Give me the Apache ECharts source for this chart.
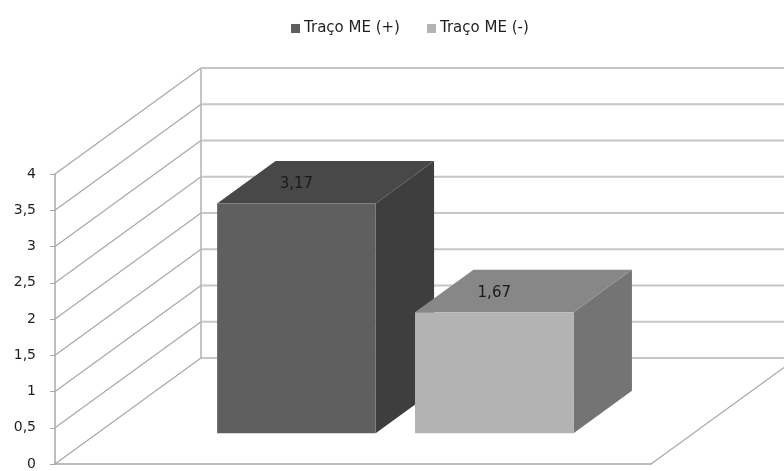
<!DOCTYPE html>
<html>
<head>
<meta charset="utf-8">
<script src="https://cdn.jsdelivr.net/npm/echarts@6/dist/echarts.min.js"></script>
<style>
  html, body { margin: 0; padding: 0; background: #ffffff; }
  #chart { width: 784px; height: 471px; }
</style>
</head>
<body>
<div id="chart"></div>
<script>
// ---- data ----
const categories = [''];
const seriesNames = ['Traço ME (+)', 'Traço ME (-)'];
const plusValues = [3.17];
const minusValues = [1.67];
const tickValues = [0, 0.5, 1, 1.5, 2, 2.5, 3, 3.5, 4];

// ---- oblique 3D geometry ----
const DEPTH = [146, -106];      // vector from front plane to back wall
const BAR_FRONT = 0.29;         // depth fraction of the bar front faces
const BAR_BACK = 0.69;          // depth fraction of the bar back faces
const BAR_W = 0.266;            // bar width as share of the category band
const BAR_GAP = 0.066;          // gap between the two bars
const LABEL_FONT = 'DejaVu Sans';

const faces = [
  { front: '#5f5f5f', top: '#484848', side: '#3e3e3e' },
  { front: '#b3b3b3', top: '#878787', side: '#747474' }
];

function fmt(v) { return String(v).replace('.', ','); }

// side wall diagonals, back wall gridlines and floor edge
function renderWall(params, api) {
  const cs = params.coordSys;
  const v = api.value(1);
  const y = api.coord([0, v])[1];
  const x0 = cs.x, x1 = cs.x + cs.width;
  const bx = x0 + DEPTH[0], by = y + DEPTH[1];
  const children = [
    { type: 'line', shape: { x1: x0, y1: y, x2: bx, y2: by },
      style: { stroke: '#a8a8a8', lineWidth: 1.2 } },
    { type: 'line', shape: { x1: bx, y1: by, x2: x1 + DEPTH[0] + 40, y2: by },
      style: { stroke: '#c6c6c6', lineWidth: 2 } }
  ];
  if (v === tickValues[0]) {
    const yTop = api.coord([0, tickValues[tickValues.length - 1]])[1] + DEPTH[1];
    children.push(
      { type: 'line', shape: { x1: bx, y1: by, x2: bx, y2: yTop },
        style: { stroke: '#b0b0b0', lineWidth: 1.5 } },
      { type: 'line', shape: { x1: x1, y1: y, x2: x1 + DEPTH[0], y2: by },
        style: { stroke: '#a8a8a8', lineWidth: 1.2 } }
    );
  }
  return { type: 'group', children: children };
}

// one 3D column per series, side by side in the category
function boxRenderer(idx) {
  return function (params, api) {
    const cat = api.value(0);
    const v = api.value(1);
    const base = api.coord([cat, 0]);
    const yTop = api.coord([cat, v])[1];
    const band = api.size([1, 0])[0];
    const w = band * BAR_W, gap = band * BAR_GAP;
    const left = base[0] - w - gap / 2 + idx * (w + gap);
    const fx = DEPTH[0] * BAR_FRONT, fy = DEPTH[1] * BAR_FRONT;
    const dx = DEPTH[0] * (BAR_BACK - BAR_FRONT), dy = DEPTH[1] * (BAR_BACK - BAR_FRONT);
    const L = left + fx, R = left + w + fx, T = yTop + fy, B = base[1] + fy;
    const c = faces[idx];
    return {
      type: 'group',
      children: [
        { type: 'polygon', shape: { points: [[R, T], [R + dx, T + dy], [R + dx, B + dy], [R, B]] },
          style: { fill: c.side } },
        { type: 'polygon', shape: { points: [[L, T], [R, T], [R + dx, T + dy], [L + dx, T + dy]] },
          style: { fill: c.top } },
        { type: 'rect', shape: { x: L, y: T, width: w, height: B - T },
          style: { fill: c.front } },
        { type: 'text', x: L + w / 2, y: T - 19,
          style: { text: fmt(v), fill: '#1a1a1a', font: '15px "' + LABEL_FONT + '"',
                   align: 'center', verticalAlign: 'middle' } }
      ]
    };
  };
}

const chart = echarts.init(document.getElementById('chart'), null, { renderer: 'canvas' });

chart.setOption({
  animation: false,
  backgroundColor: '#ffffff',
  legend: {
    data: seriesNames,
    left: 286,
    top: 16,
    icon: 'rect',
    itemWidth: 9,
    itemHeight: 9,
    itemGap: 27,
    textStyle: { fontFamily: LABEL_FONT, fontSize: 15, color: '#1e1e1e', padding: [0, 0, 0, -1] }
  },
  grid: { left: 55, right: 133, top: 174, bottom: 6 },
  xAxis: {
    type: 'category',
    data: categories,
    axisLine: { show: true, lineStyle: { color: '#a8a8a8', width: 1.5 } },
    axisTick: { show: false },
    axisLabel: { show: false },
    splitLine: { show: false }
  },
  yAxis: {
    type: 'value',
    min: 0,
    max: 4,
    interval: 0.5,
    axisLine: { show: true, lineStyle: { color: '#a8a8a8', width: 1.5 } },
    axisTick: { show: true, length: 5, lineStyle: { color: '#a8a8a8' } },
    axisLabel: {
      margin: 19,
      fontFamily: LABEL_FONT,
      fontSize: 14,
      color: '#1e1e1e',
      formatter: function (v) { return fmt(v); }
    },
    splitLine: { show: false }
  },
  series: [
    {
      name: 'walls',
      type: 'custom',
      silent: true,
      z: 1,
      renderItem: renderWall,
      data: tickValues.map(function (v) { return [0, v]; }),
      encode: { x: 0, y: 1 }
    },
    {
      name: seriesNames[0],
      type: 'custom',
      z: 3,
      itemStyle: { color: faces[0].front },
      renderItem: boxRenderer(0),
      data: plusValues.map(function (v, i) { return [i, v]; }),
      encode: { x: 0, y: 1 }
    },
    {
      name: seriesNames[1],
      type: 'custom',
      z: 4,
      itemStyle: { color: faces[1].front },
      renderItem: boxRenderer(1),
      data: minusValues.map(function (v, i) { return [i, v]; }),
      encode: { x: 0, y: 1 }
    }
  ]
});
</script>
</body>
</html>
